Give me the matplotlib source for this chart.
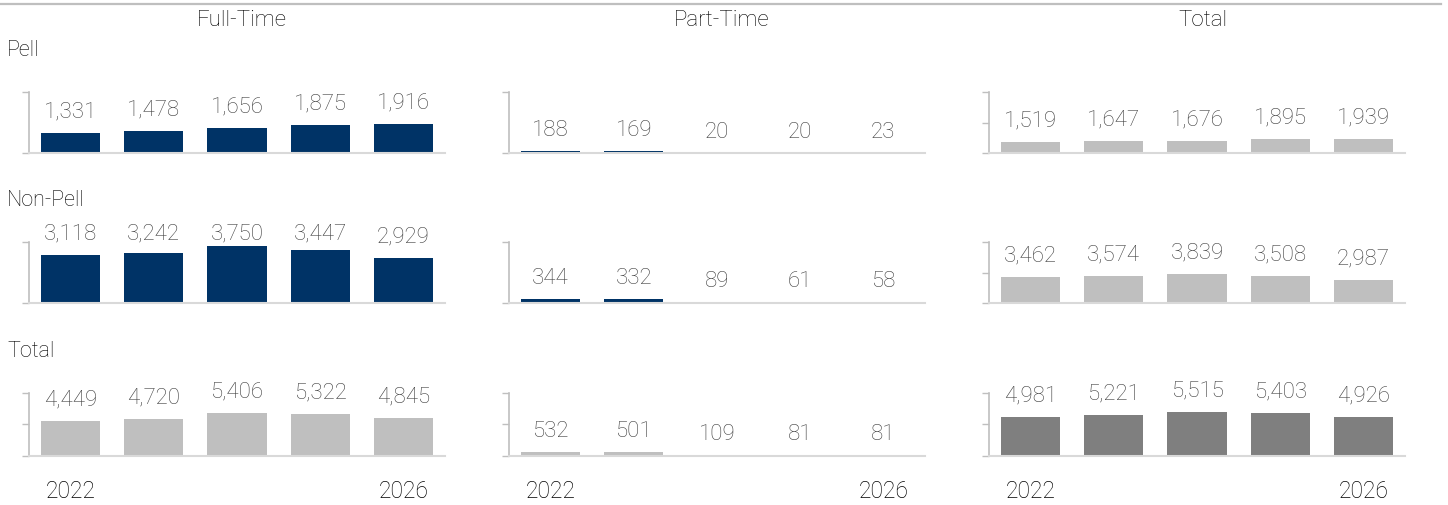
import matplotlib
matplotlib.use("Agg")
import matplotlib.pyplot as plt
from matplotlib.lines import Line2D

plt.rcParams['font.family'] = ['Roboto', 'DejaVu Sans']
plt.rcParams['font.weight'] = 'light'

years = ['2022', '2023', '2024', '2025', '2026']
col_titles = ['Full-Time', 'Part-Time', 'Total']
row_titles = ['Pell', 'Non-Pell', 'Total']

ft_pell = [1331, 1478, 1656, 1875, 1916]
ft_nonpell = [3118, 3242, 3750, 3447, 2929]
ft_total = [4449, 4720, 5406, 5322, 4845]
pt_pell = [188, 169, 20, 20, 23]
pt_nonpell = [344, 332, 89, 61, 58]
pt_total = [532, 501, 109, 81, 81]
tot_pell = [1519, 1647, 1676, 1895, 1939]
tot_nonpell = [3462, 3574, 3839, 3508, 2987]
tot_total = [4981, 5221, 5515, 5403, 4926]

grid = [[ft_pell, pt_pell, tot_pell],
        [ft_nonpell, pt_nonpell, tot_nonpell],
        [ft_total, pt_total, tot_total]]

NAVY = '#003366'
LGRAY = '#BFBFBF'
DGRAY = '#7F7F7F'
colors = [[NAVY, NAVY, LGRAY],
          [NAVY, NAVY, LGRAY],
          [LGRAY, LGRAY, DGRAY]]
# axis max per panel
ymaxes = [[4000, 5000, 8000],
          [4000, 5000, 8000],
          [8000, 8000, 8000]]

W, H = 1448, 506
fig = plt.figure(figsize=(W / 100, H / 100), dpi=100)

col_left = [29, 509, 989]
col_w = 416
rows_px = [(93.3, 154.3), (242.7, 304.3), (393.5, 457.3)]

fig.add_artist(Line2D([0, 1441 / W], [1 - 4.5 / H] * 2, color='#BFBFBF', lw=1.6))

label_off = 16.5  # px between bar top and label baseline
for r in range(3):
    top, bot = rows_px[r]
    axh = bot - top
    for c in range(3):
        vals = grid[r][c]
        ymax = ymaxes[r][c]
        ax = fig.add_axes([col_left[c] / W, 1 - bot / H, col_w / W, axh / H])
        x = list(range(len(vals)))
        ax.bar(x, vals, width=0.71, color=colors[r][c])
        ax.set_xlim(-0.5, 4.5)
        ax.set_ylim(0, ymax)
        ax.set_yticks([0, ymax] if ymax < 8000 else [0, 4000, 8000])
        ax.tick_params(axis='y', labelleft=False, length=5, width=1, color='#BFBFBF', direction='out')
        for s in ['top', 'right']:
            ax.spines[s].set_visible(False)
        ax.spines['left'].set_color('#BFBFBF')
        ax.spines['bottom'].set_color('#D9D9D9')
        ax.spines['left'].set_linewidth(1.2)
        ax.spines['bottom'].set_linewidth(1.5)
        if r == 2:
            ax.set_xticks([0, 4])
            ax.set_xticklabels([years[0], years[-1]], fontsize=16.5, color='black')
            ax.tick_params(axis='x', length=0, pad=16)
        else:
            ax.set_xticks([])
        # labels sit above the bar, but are kept within the top of the panel
        cap = 1 + 3.4 / axh
        for i, v in enumerate(vals):
            yf = min(v / ymax + label_off / axh, cap)
            ax.text(i, yf, f'{v:,}', transform=ax.get_xaxis_transform(),
                    ha='center', va='baseline', fontsize=16, color='#3F3F3F',
                    clip_on=False)

col_title_x = [242, 722, 1203]
for c in range(3):
    fig.text(col_title_x[c] / W, 1 - 20 / H, col_titles[c], ha='center', va='center',
             fontsize=16, color='black')
row_title_y = [50.5, 200.8, 351.3]
for r in range(3):
    fig.text(7 / W, 1 - row_title_y[r] / H, row_titles[r], ha='left', va='center',
             fontsize=15.5, color='black')

fig.savefig('out.png', dpi=100)
